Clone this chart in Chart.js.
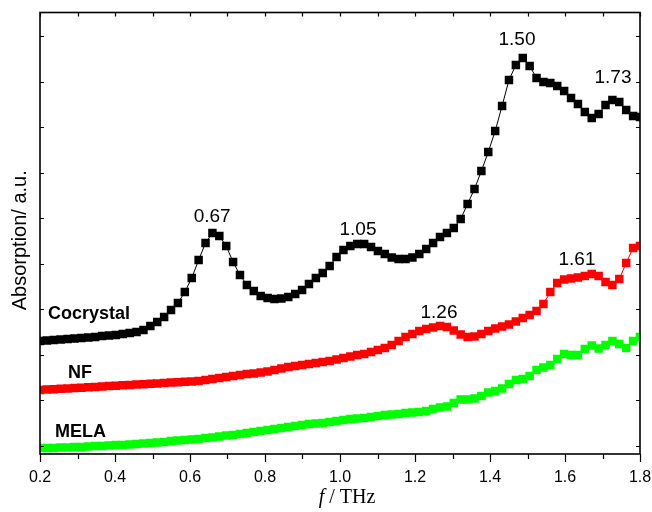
<!DOCTYPE html>
<html>
<head>
<meta charset="utf-8">
<script src="https://cdn.jsdelivr.net/npm/chart.js@4/dist/chart.umd.min.js"></script>
<style>
  html, body { margin: 0; padding: 0; background: #fff; }
  #wrap { width: 652px; height: 512px; position: relative; }
</style>
</head>
<body>
<div id="wrap"><canvas id="c" width="652" height="512"></canvas></div>
<script>
// Frequency grid (THz)
const freq = [
  0.2000, 0.2184, 0.2368, 0.2552, 0.2736, 0.2920, 0.3103, 0.3287, 0.3471, 0.3655,
  0.3839, 0.4023, 0.4207, 0.4391, 0.4575, 0.4759, 0.4943, 0.5126, 0.5310, 0.5494,
  0.5678, 0.5862, 0.6046, 0.6230, 0.6414, 0.6598, 0.6782, 0.6966, 0.7149, 0.7333,
  0.7517, 0.7701, 0.7885, 0.8069, 0.8253, 0.8437, 0.8621, 0.8805, 0.8989, 0.9172,
  0.9356, 0.9540, 0.9724, 0.9908, 1.0092, 1.0276, 1.0460, 1.0644, 1.0828, 1.1011,
  1.1195, 1.1379, 1.1563, 1.1747, 1.1931, 1.2115, 1.2299, 1.2483, 1.2667, 1.2851,
  1.3034, 1.3218, 1.3402, 1.3586, 1.3770, 1.3954, 1.4138, 1.4322, 1.4506, 1.4690,
  1.4874, 1.5057, 1.5241, 1.5425, 1.5609, 1.5793, 1.5977, 1.6161, 1.6345, 1.6529,
  1.6713, 1.6897, 1.7080, 1.7264, 1.7448, 1.7632, 1.7816, 1.8000
];

// Absorption (a.u., offset curves)
const cocrystal = [
  1.13, 1.135, 1.14, 1.145, 1.15, 1.155, 1.16, 1.165, 1.17, 1.18,
  1.185, 1.19, 1.20, 1.21, 1.22, 1.24, 1.28, 1.32, 1.37, 1.44,
  1.51, 1.62, 1.76, 1.94, 2.11, 2.21, 2.18, 2.08, 1.92, 1.79,
  1.69, 1.63, 1.58, 1.56, 1.55, 1.555, 1.57, 1.60, 1.64, 1.70,
  1.76, 1.81, 1.88, 1.97, 2.04, 2.08, 2.10, 2.10, 2.07, 2.03,
  2.00, 1.965, 1.95, 1.95, 1.965, 2.00, 2.05, 2.11, 2.17, 2.21,
  2.26, 2.35, 2.50, 2.65, 2.83, 3.02, 3.23, 3.48, 3.74, 3.89,
  3.96, 3.88, 3.76, 3.72, 3.71, 3.68, 3.63, 3.56, 3.50, 3.42,
  3.36, 3.40, 3.49, 3.54, 3.52, 3.44, 3.38, 3.37
];
const nf = [
  0.640, 0.644, 0.648, 0.652, 0.656, 0.659, 0.663, 0.667, 0.671, 0.675,
  0.679, 0.683, 0.687, 0.691, 0.695, 0.698, 0.702, 0.706, 0.710, 0.714,
  0.718, 0.722, 0.726, 0.730, 0.740, 0.750, 0.760, 0.770, 0.780, 0.790,
  0.800, 0.805, 0.815, 0.825, 0.840, 0.855, 0.870, 0.880, 0.890, 0.900,
  0.910, 0.920, 0.930, 0.945, 0.960, 0.975, 0.990, 1.000, 1.020, 1.040,
  1.060, 1.090, 1.130, 1.170, 1.200, 1.230, 1.250, 1.265, 1.280, 1.270,
  1.235, 1.195, 1.170, 1.175, 1.200, 1.230, 1.255, 1.275, 1.295, 1.325,
  1.360, 1.390, 1.430, 1.500, 1.620, 1.710, 1.745, 1.755, 1.765, 1.780,
  1.800, 1.780, 1.720, 1.690, 1.750, 1.910, 2.060, 2.080
];
const mela = [
  0.060, 0.060, 0.060, 0.065, 0.065, 0.070, 0.070, 0.075, 0.080, 0.080,
  0.085, 0.090, 0.090, 0.095, 0.100, 0.105, 0.110, 0.115, 0.120, 0.130,
  0.135, 0.140, 0.145, 0.150, 0.160, 0.165, 0.175, 0.185, 0.190, 0.200,
  0.210, 0.220, 0.230, 0.240, 0.250, 0.260, 0.270, 0.280, 0.290, 0.300,
  0.305, 0.310, 0.320, 0.330, 0.340, 0.350, 0.355, 0.360, 0.370, 0.380,
  0.390, 0.395, 0.400, 0.410, 0.415, 0.420, 0.430, 0.450, 0.465, 0.475,
  0.510, 0.545, 0.545, 0.555, 0.580, 0.615, 0.630, 0.655, 0.700, 0.740,
  0.750, 0.780, 0.840, 0.865, 0.890, 0.950, 1.000, 0.990, 0.990, 1.050,
  1.085, 1.055, 1.090, 1.130, 1.100, 1.060, 1.130, 1.170
];

// Tick values
const xTicks = [0.2, 0.4, 0.6, 0.8, 1.0, 1.2, 1.4, 1.6, 1.8];
const xMinorTicks = [0.3, 0.5, 0.7, 0.9, 1.1, 1.3, 1.5, 1.7];
const yTicks = [0.085, 0.54, 0.995, 1.45, 1.905, 2.36, 2.815, 3.27, 3.725, 4.18];

// Peak annotations: text, frequency, value (baseline)
const peakText = ['0.67', '1.05', '1.26', '1.50', '1.61', '1.73'];
const peakFreq = [0.659, 1.048, 1.264, 1.472, 1.632, 1.728];
const peakVal  = [2.32, 2.19, 1.36, 4.09, 1.89, 3.71];

// Series names placed next to the curves
const seriesNames = ['Cocrystal', 'NF', 'MELA'];
const nameFreq = [0.2213, 0.2747, 0.240];
const nameVal  = [1.355, 0.76, 0.17];

const SANS = "'Liberation Sans', Arial, sans-serif";
const SERIF = "'Liberation Serif', 'Times New Roman', serif";

function mk(label, data, color) {
  return {
    label,
    data: freq.map((f, i) => ({ x: f, y: data[i] })),
    borderColor: color,
    backgroundColor: color,
    borderWidth: 1,
    pointStyle: 'rect',
    pointRadius: 6,
    pointBorderWidth: 0,
    pointBackgroundColor: color,
    tension: 0,
    clip: 0
  };
}

const frame = {
  id: 'frame',
  afterDatasetsDraw(chart) {
    const { ctx, chartArea: a, scales: { x, y } } = chart;
    ctx.save();
    ctx.strokeStyle = '#000';
    ctx.lineWidth = 1.6;
    ctx.strokeRect(a.left, a.top, a.right - a.left, a.bottom - a.top);
    ctx.lineWidth = 1.2;
    ctx.beginPath();
    xTicks.forEach(v => {
      const px = Math.round(x.getPixelForValue(v)) + 0.5;
      ctx.moveTo(px, a.bottom); ctx.lineTo(px, a.bottom + 8);
      ctx.moveTo(px, a.top); ctx.lineTo(px, a.top + 4);
    });
    xMinorTicks.forEach(v => {
      const px = Math.round(x.getPixelForValue(v)) + 0.5;
      ctx.moveTo(px, a.bottom); ctx.lineTo(px, a.bottom + 5);
      ctx.moveTo(px, a.top); ctx.lineTo(px, a.top + 4);
    });
    yTicks.forEach(v => {
      const py = Math.round(y.getPixelForValue(v)) + 0.5;
      ctx.moveTo(a.left, py); ctx.lineTo(a.left + 4, py);
      ctx.moveTo(a.right, py); ctx.lineTo(a.right - 4, py);
    });
    ctx.stroke();
    ctx.restore();
  },
  afterDraw(chart) {
    const { ctx, chartArea: a, scales: { x, y } } = chart;
    ctx.save();
    ctx.fillStyle = '#000';
    // peak labels
    ctx.font = '19px ' + SANS;
    ctx.textAlign = 'center';
    ctx.textBaseline = 'alphabetic';
    peakText.forEach((t, i) => {
      ctx.fillText(t, x.getPixelForValue(peakFreq[i]), y.getPixelForValue(peakVal[i]));
    });
    // series names
    ctx.font = 'bold 18px ' + SANS;
    ctx.textAlign = 'left';
    seriesNames.forEach((t, i) => {
      ctx.fillText(t, x.getPixelForValue(nameFreq[i]), y.getPixelForValue(nameVal[i]));
    });
    // y title
    ctx.save();
    ctx.translate(26, (a.top + a.bottom) / 2 + 7);
    ctx.rotate(-Math.PI / 2);
    ctx.font = '20px ' + SANS;
    ctx.textAlign = 'center';
    ctx.fillText('Absorption/ a.u.', 0, 0);
    ctx.restore();
    // x title: italic f + " / THz"
    ctx.font = 'italic 20px ' + SERIF;
    const w1 = ctx.measureText('f').width;
    ctx.font = '20px ' + SERIF;
    const w2 = ctx.measureText(' / THz').width;
    const cx = (a.left + a.right) / 2 + 7;
    const start = cx - (w1 + w2) / 2;
    ctx.textAlign = 'left';
    ctx.font = 'italic 20px ' + SERIF;
    ctx.fillText('f', start, 503);
    ctx.font = '20px ' + SERIF;
    ctx.fillText(' / THz', start + w1, 503);
    ctx.restore();
  }
};

new Chart(document.getElementById('c'), {
  type: 'line',
  data: {
    datasets: [
      mk('Cocrystal', cocrystal, '#000000'),
      mk('NF', nf, '#ff0000'),
      mk('MELA', mela, '#00ff00')
    ]
  },
  options: {
    responsive: false,
    animation: false,
    devicePixelRatio: 1,
    layout: { padding: { left: 0, right: 12, top: 12.5, bottom: 0 } },
    plugins: { legend: { display: false }, tooltip: { enabled: false } },
    scales: {
      x: {
        type: 'linear',
        min: 0.2, max: 1.8,
        grid: { display: false, drawTicks: false },
        border: { display: false },
        afterBuildTicks: s => { s.ticks = xTicks.map(v => ({ value: v })); },
        afterFit: s => { s.height = 58; s.paddingLeft = 0; s.paddingRight = 0; },
        ticks: {
          color: '#000',
          padding: 14.4,
          maxRotation: 0,
          autoSkip: false,
          font: { family: SANS, size: 16 },
          callback: v => Number(v).toFixed(1)
        }
      },
      y: {
        type: 'linear',
        min: 0, max: 4.415,
        grid: { display: false, drawTicks: false },
        border: { display: false },
        ticks: { display: false },
        afterBuildTicks: s => { s.ticks = yTicks.map(v => ({ value: v })); },
        afterFit: s => { s.width = 40; }
      }
    }
  },
  plugins: [frame]
});
</script>
</body>
</html>
